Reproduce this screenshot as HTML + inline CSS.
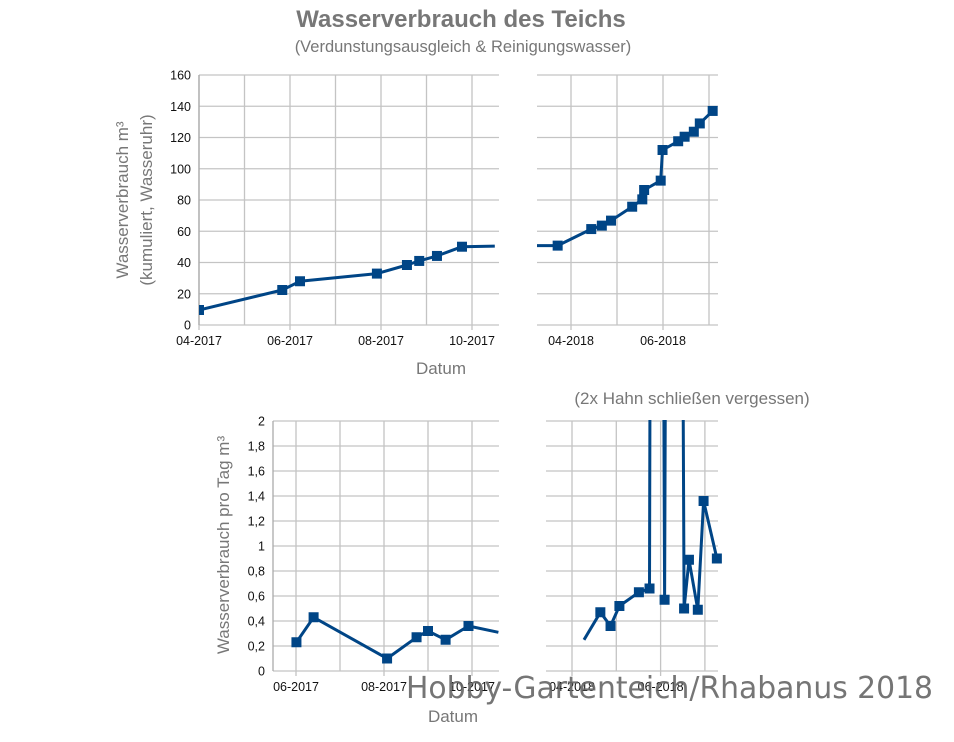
<!DOCTYPE html>
<html><head><meta charset="utf-8"><style>
html,body{margin:0;padding:0;background:#fff;}
svg{display:block;font-family:"Liberation Sans",sans-serif;}
</style></head><body>
<svg id="c" width="954" height="742" viewBox="0 0 954 742">
<defs>
<clipPath id="cTL"><rect x="199" y="70" width="300" height="260"/></clipPath>
<clipPath id="cTR"><rect x="537" y="70" width="182" height="260"/></clipPath>
<clipPath id="cBL"><rect x="273" y="416" width="226" height="260"/></clipPath>
<clipPath id="cBR"><rect x="546" y="420" width="176" height="256"/></clipPath>
</defs>
<text x="461" y="27" text-anchor="middle" font-size="24" font-weight="bold" fill="#777">Wasserverbrauch des Teichs</text>
<text x="463" y="52" text-anchor="middle" font-size="16.5" fill="#777">(Verdunstungsausgleich &amp; Reinigungswasser)</text>
<text transform="translate(128,200) rotate(-90)" text-anchor="middle" font-size="17" fill="#777">Wasserverbrauch m³</text>
<text transform="translate(152,200) rotate(-90)" text-anchor="middle" font-size="17" fill="#777">(kumuliert, Wasseruhr)</text>
<text x="441" y="374" text-anchor="middle" font-size="17" fill="#777">Datum</text>
<text x="692" y="404" text-anchor="middle" font-size="17" fill="#777">(2x Hahn schließen vergessen)</text>
<text transform="translate(229,545) rotate(-90)" text-anchor="middle" font-size="17" fill="#777">Wasserverbrauch pro Tag m³</text>
<text x="453" y="722" text-anchor="middle" font-size="17" fill="#777">Datum</text>
<g id="plots"></g>
<text x="406" y="698" font-family="DejaVu Sans, sans-serif" font-size="30" fill="#666" fill-opacity="0.9" textLength="527" lengthAdjust="spacingAndGlyphs">Hobby-Gartenteich/Rhabanus 2018</text>
</svg>
<script>
// Top chart (cumulative, m³), x in months since panel reference month
const topYTicks = [0,20,40,60,80,100,120,140,160];
const topLeftTicks = ["04-2017","06-2017","08-2017","10-2017"];
const topLeftX = [0,1.83,2.22,3.91,4.57,4.84,5.23,5.78,6.5];
const topLeftY = [9.6,22.4,28,32.9,38.4,41,44.2,50.1,50.5];
const topRightTicks = ["04-2018","06-2018"];
const topRightX = [-0.8,-0.29,0.44,0.67,0.87,1.33,1.55,1.59,1.95,1.99,2.33,2.47,2.67,2.80,3.08];
const topRightY = [50.8,50.8,61.4,63.6,66.8,75.7,80.4,86.4,92.4,112,117.6,120.5,123.7,129,137];
// Bottom chart (per day, m³)
const botYTicks = ["0","0,2","0,4","0,6","0,8","1","1,2","1,4","1,6","1,8","2"];
const botLeftTicks = ["06-2017","08-2017","10-2017"];
const botLeftX = [0.01,0.4,2.07,2.74,3.0,3.4,3.92,4.6];
const botLeftY = [0.23,0.43,0.10,0.27,0.32,0.25,0.36,0.31];
const botRightTicks = ["04-2018","06-2018"];
const botRightX = [0.27,0.64,0.87,1.07,1.51,1.75,1.88,2.09,2.28,2.53,2.64,2.84,2.97,3.27];
const botRightY = [0.25,0.47,0.36,0.52,0.63,0.66,20,0.57,20,0.50,0.89,0.49,1.36,0.90];
const botRightMarker = [0,1,1,1,1,1,0,1,0,1,1,1,1,1];

const NS="http://www.w3.org/2000/svg";
const root=document.getElementById('plots');
function mk(tag,attrs,parent){const e=document.createElementNS(NS,tag);for(const k in attrs)e.setAttribute(k,attrs[k]);(parent||root).appendChild(e);return e;}

function panel(o){
  const g=mk('g',{});
  
  
  const sx=m=>o.x0+m*o.mpx, sy=v=>o.y0-v*o.vpx;
  // horizontal grid
  o.yvals.forEach((v,i)=>{
    const y=sy(v);
    const l=mk('line',{x1:o.left,x2:o.right,y1:y,y2:y,stroke:'#c4c4c4','stroke-width':1.3},g);
    
    
    if(o.ylabels){
      const t=mk('text',{x:o.left-8,y:y+4.5,'text-anchor':'end','font-size':12.5,fill:'#111'},g);
      
      
      t.textContent=o.ylabels[i];
    }
  });
  // vertical grid (monthly)
  for(let m=o.mStart;m<=o.mEnd;m++){
    const x=sx(m); if(x<o.left-0.5||x>o.right+0.5) continue;
    const l=mk('line',{x1:x,x2:x,y1:sy(o.ymax),y2:sy(0)+(m%2===0?5:0),stroke:'#c4c4c4','stroke-width':1.3},g);
    
    
  }
  o.xticks.forEach((lab,i)=>{
    const t=mk('text',{x:sx(i*2),y:sy(0)+20,'text-anchor':'middle','font-size':12.5,fill:'#111'},g);
    
    
    t.textContent=lab;
  });
  if(o.axis){
    const a=mk('line',{x1:o.left,x2:o.left,y1:sy(o.ymax),y2:sy(0),stroke:'#aaa','stroke-width':1.3},g);
    
    
  }
  const cg=mk('g',{'clip-path':'url(#'+o.clip+')'},g);
  const pts=o.xs.map((m,i)=>sx(m).toFixed(1)+','+sy(o.ys[i]).toFixed(1)).join(' ');
  const pl=mk('polyline',{points:pts,fill:'none',stroke:'#004586','stroke-width':3,'stroke-linejoin':'round'},cg);
  
  
  o.xs.forEach((m,i)=>{
    if(o.markers && !o.markers[i]) return;
    if(o.skip && o.skip.includes(i)) return;
    const r=mk('rect',{x:sx(m)-5,y:sy(o.ys[i])-5,width:10,height:10,fill:'#004586'},cg);
    
    
  });
}
const topV=topYTicks;
panel({name:'top-left-panel',x0:199,mpx:45.5,y0:325,vpx:250/160,left:199,right:499,mStart:0,mEnd:7,ymax:160,
  yvals:topV,ylabels:topYTicks.map(String),xticks:topLeftTicks,xs:topLeftX,ys:topLeftY,axis:true,clip:'cTL',skip:[8]});
panel({name:'top-right-panel',x0:571,mpx:46,y0:325,vpx:250/160,left:537,right:718,mStart:-1,mEnd:4,ymax:160,
  yvals:topV,ylabels:null,xticks:topRightTicks,xs:topRightX,ys:topRightY,axis:false,clip:'cTR',skip:[0]});
const botV=botYTicks.map((s,i)=>i*0.2);
panel({name:'bottom-left-panel',x0:296,mpx:44,y0:671,vpx:125,left:273,right:499,mStart:0,mEnd:5,ymax:2,
  yvals:botV,ylabels:botYTicks,xticks:botLeftTicks,xs:botLeftX,ys:botLeftY,axis:true,clip:'cBL',skip:[7]});
panel({name:'bottom-right-panel',x0:572,mpx:44.3,y0:671,vpx:125,left:546,right:718,mStart:-1,mEnd:4,ymax:2,
  yvals:botV,ylabels:null,xticks:botRightTicks,xs:botRightX,ys:botRightY,axis:false,clip:'cBR',markers:botRightMarker});
</script>
</body></html>
